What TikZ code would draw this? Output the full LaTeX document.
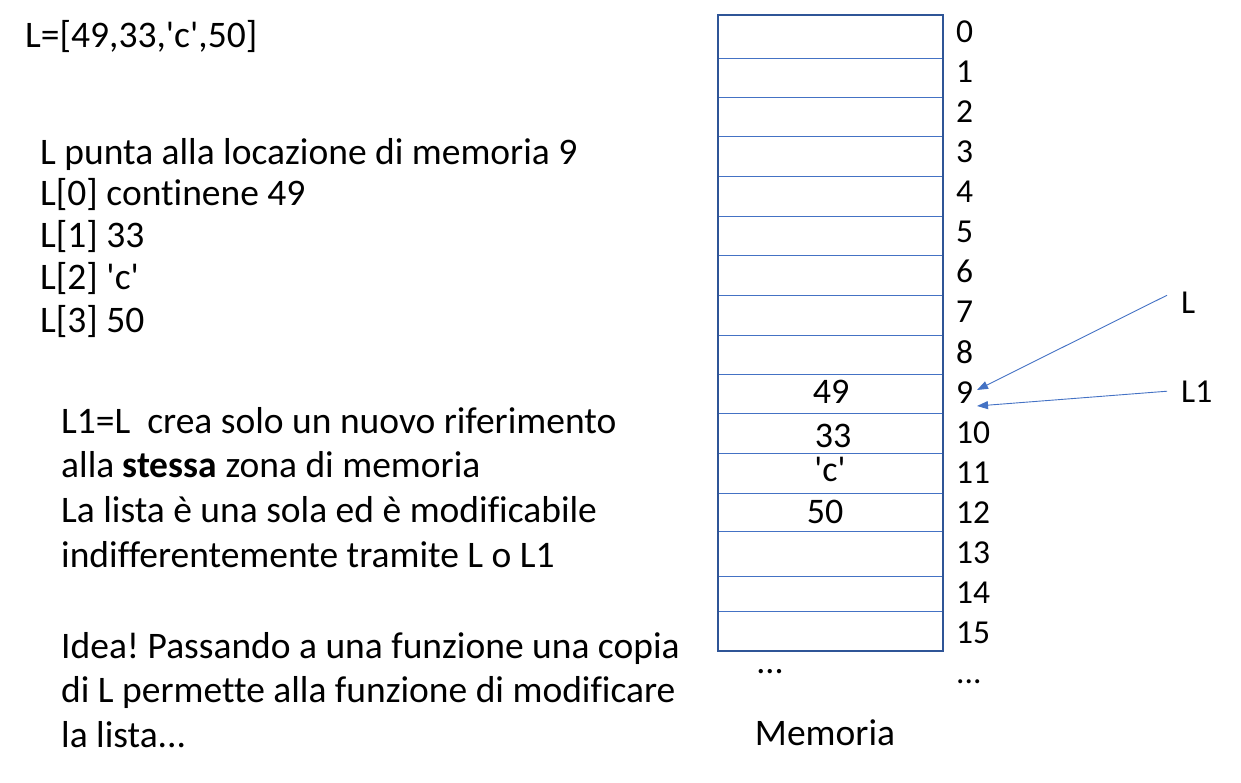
\documentclass[tikz,border=0pt]{standalone}
\usepackage{fontspec}
\setmainfont{Carlito}[Ligatures={TeXOff,CommonOff}]
\usetikzlibrary{arrows.meta}
\definecolor{rowblue}{HTML}{4472C4}
\definecolor{boxblue}{HTML}{2F5597}
\frenchspacing
\begin{document}
\begin{tikzpicture}[x=1pt,y=-1pt,
  txt/.style={anchor=base west,inner sep=0pt,font=\fontsize{37.5}{40}\selectfont},
  idx/.style={anchor=base west,inner sep=0pt,font=\fontsize{33.5}{36}\selectfont},
  val/.style={anchor=base,inner sep=0pt,font=\fontsize{36}{40}\selectfont},
  rowline/.style={draw=rowblue,line width=1pt},
  arr/.style={draw=rowblue,line width=0.9pt,-{Triangle[length=11pt,width=8pt]}}]
\useasboundingbox (0,0) rectangle (1241,783);
% left texts
\node[txt] (def) at (25,48) {L=[49,33,'c',50]};
\node[txt] (t1) at (40,165) {L punta alla locazione di memoria 9};
\node[txt] (t2) at (40,206) {L[0] continene 49};
\node[txt] (t3) at (40,248) {L[1] 33};
\node[txt] (t4) at (40,290) {L[2] 'c'};
\node[txt] (t5) at (40,332) {L[3] 50};
\node[txt] (u1) at (61,433) {L1=L\ \ crea solo un nuovo riferimento};
\node[txt] (u2) at (61,477) {alla \textbf{stessa} zona di memoria};
\node[txt] (u3) at (61,522) {La lista è una sola ed è modificabile};
\node[txt] (u4) at (61,567) {indifferentemente tramite L o L1};
\node[txt] (v1) at (61,658) {Idea! Passando a una funzione una copia};
\node[txt] (v2) at (61,702) {di L permette alla funzione di modificare};
\node[txt] (v3) at (61,747) {la lista...};
% memory
\foreach \yy in {59,98,137,177,217,256,296,335,374,413,453,493,531,576,611}
  \draw[rowline] (718,\yy) -- (943,\yy);
\draw[draw=boxblue,line width=2pt] (718,15) rectangle (943,651);
\node[val] (c9) at (831,403) {49};
\node[val] (c10) at (833,447) {33};
\node[val] (c11) at (830,481) {'c'};
\node[val] (c12) at (825,523) {50};
\foreach \i in {0,...,15}
  \node[idx] (i\i) at (956,43+40*\i) {\i};
\node[idx] (idots) at (956,683) {...};
\node[val] (mdots) at (770,673) {...};
\node[txt,anchor=base] (mem) at (825,745) {Memoria};
% pointers
\node[idx] (L) at (1181,313) {L};
\node[idx] (L1) at (1181,402) {L1};
\coordinate (tipa) at (977,390);
\coordinate (tipb) at (977,406);
\draw[arr] ([xshift=-14pt,yshift=7pt]L.west) -- (tipa);
\draw[arr] ([xshift=-14pt]L1.west) -- (tipb);
\end{tikzpicture}
\end{document}
